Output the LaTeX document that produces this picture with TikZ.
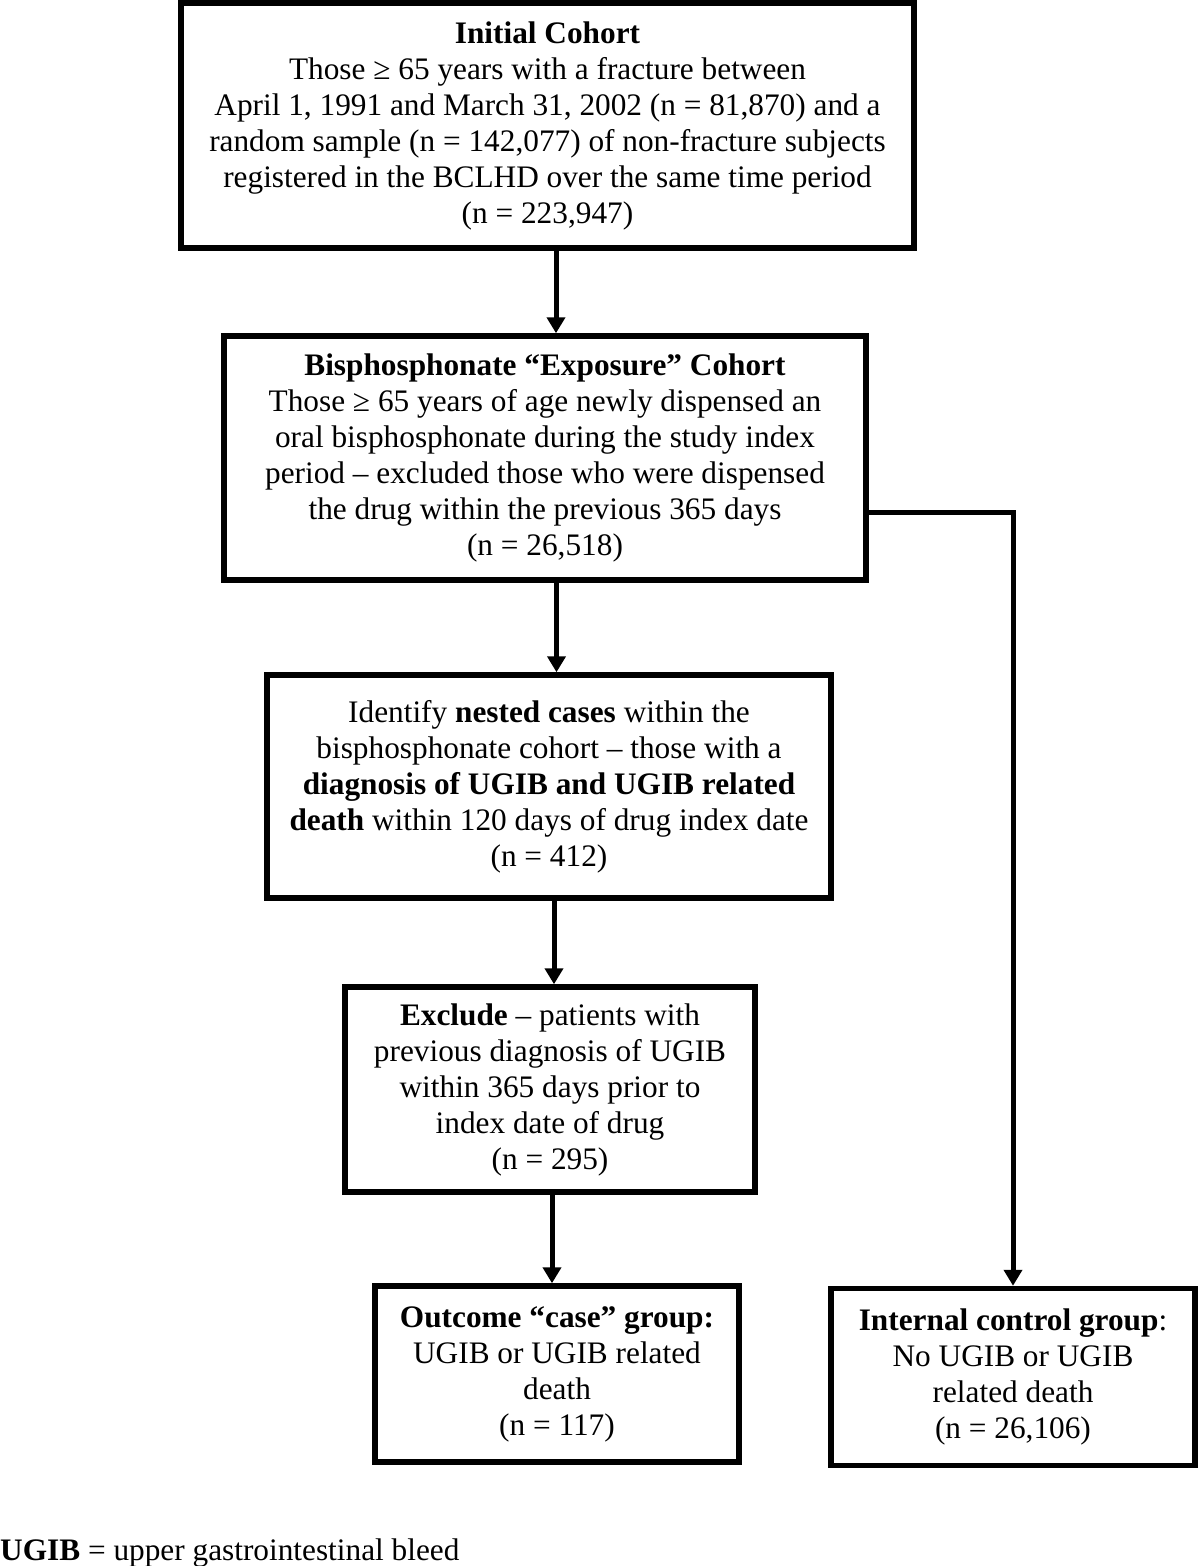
\documentclass[tikz,border=0pt]{standalone}
\usepackage{fontspec}
\setmainfont{Liberation Serif}
\usetikzlibrary{arrows.meta}
\begin{document}
\begin{tikzpicture}[x=1pt,y=-1pt,
  box/.style={draw, line width=5.5pt, align=center, inner sep=0pt,
    font=\fontsize{31.3}{36}\selectfont},
  arr/.style={line width=5pt, -{Triangle[width=18pt,length=16pt]}},
  conn/.style={line width=5pt}]
\useasboundingbox (0,0) rectangle (1200,1566);
\node[box, minimum width=733pt, minimum height=245pt] (b1) at (547.5,125.5)
  {\textbf{Initial Cohort}\\Those ≥ 65 years with a fracture between\\April 1, 1991 and March 31, 2002 (n = 81,870) and a\\random sample (n = 142,077) of non-fracture subjects\\registered in the BCLHD over the same time period\\(n = 223,947)};
\node[box, minimum width=642pt, minimum height=244pt] (b2) at (545,458)
  {\textbf{Bisphosphonate “Exposure” Cohort}\\Those ≥ 65 years of age newly dispensed an\\oral bisphosphonate during the study index\\period – excluded those who were dispensed\\the drug within the previous 365 days\\(n = 26,518)};
\node[box, minimum width=564pt, minimum height=223pt] (b3) at (549,786.5)
  {Identify \textbf{nested cases} within the\\bisphosphonate cohort – those with a\\\textbf{diagnosis of UGIB and UGIB related}\\\textbf{death} within 120 days of drug index date\\(n = 412)};
\node[box, minimum width=410pt, minimum height=205pt] (b4) at (550,1089.5)
  {\textbf{Exclude} – patients with\\previous diagnosis of UGIB\\within 365 days prior to\\index date of drug\\(n = 295)};
\node[box, minimum width=364pt, minimum height=176pt] (b5) at (557,1374)
  {\textbf{Outcome “case” group:}\\UGIB or UGIB related\\death\\(n = 117)};
\node[box, minimum width=364pt, minimum height=177pt] (b6) at (1013,1377)
  {\textbf{Internal control group}:\\No UGIB or UGIB\\related death\\(n = 26,106)};
\node[anchor=base west, inner sep=0pt, font=\fontsize{31.3}{36}\selectfont] (fn) at (0,1560)
  {\textbf{UGIB} = upper gastrointestinal bleed};
\coordinate (a1) at (556,0);
\coordinate (a2) at (556.5,0);
\coordinate (a3) at (554,0);
\coordinate (a4) at (552,0);
\coordinate (k) at (1013,512);
\draw[arr] (b1.south -| a1) -- (b2.north -| a1);
\draw[arr] (b2.south -| a2) -- (b3.north -| a2);
\draw[arr] (b3.south -| a3) -- (b4.north -| a3);
\draw[arr] (b4.south -| a4) -- (b5.north -| a4);
\draw[arr] (b2.east |- k) -- (k) -- (b6.north);
\end{tikzpicture}
\end{document}
